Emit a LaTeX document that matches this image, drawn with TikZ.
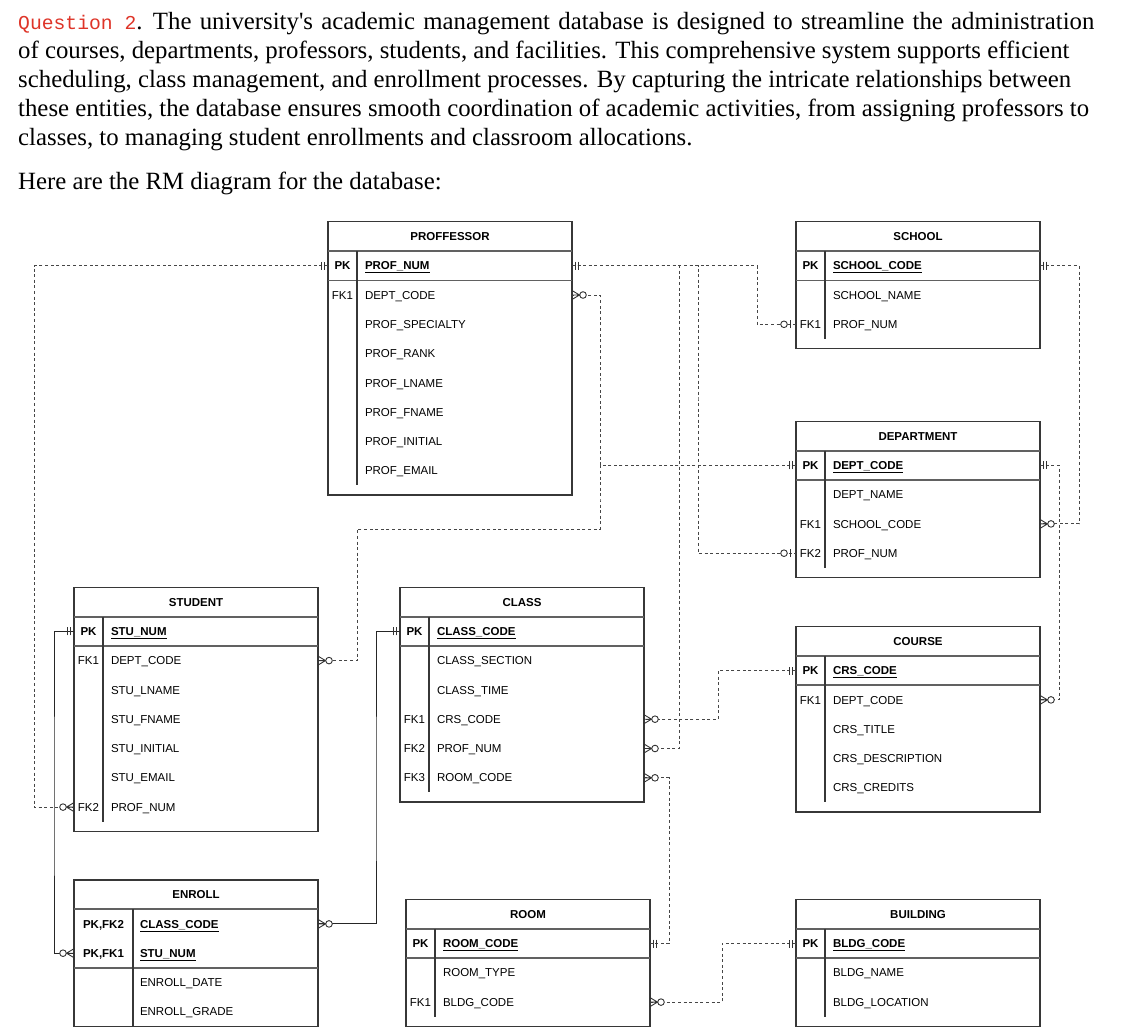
\documentclass[tikz,border=0pt]{standalone}
\usepackage{fontspec}
\setmainfont{Liberation Serif}
\newfontfamily\erfont{Liberation Sans}
\newfontfamily\codefont{Liberation Mono}
\usepackage{xcolor}
\usetikzlibrary{positioning}

\definecolor{qred}{RGB}{222,52,40}
\definecolor{edge}{RGB}{55,55,55}
\definecolor{link}{RGB}{70,70,70}

\begin{document}
\begin{tikzpicture}[
    x=1pt,y=-1pt,
    node distance=0pt,
    txt/.style={anchor=base west,inner sep=0,font=\fontsize{24.8}{29}\selectfont},
    ttl/.style={minimum width=244,minimum height=29.3,inner sep=0,outer sep=0,text height=8.2,text depth=0,font=\erfont\fontsize{11.5}{13}\selectfont\bfseries},
    row/.style={minimum width=244,minimum height=29.3,inner xsep=37,inner ysep=0,outer sep=0,text width=170,align=left,text height=8.2,text depth=0,font=\erfont\fontsize{11.5}{13}\selectfont},
    pkrow/.style={row,font=\erfont\fontsize{11.5}{13}\selectfont\bfseries},
    erow/.style={row,execute at begin node={\hspace*{29pt}}},
    epkrow/.style={pkrow,execute at begin node={\hspace*{29pt}}},
    key/.style={inner sep=0,text height=8.2,text depth=0,font=\erfont\fontsize{11.5}{13}\selectfont},
    pkey/.style={key,font=\erfont\fontsize{11.5}{13}\selectfont\bfseries},
    box/.style={draw=edge,line width=1.3},
    hline/.style={draw=black!62,line width=1.7},
    vline/.style={draw=edge,line width=1.2},
    rel/.style={draw=link,line width=0.9,dash pattern=on 3pt off 2.6pt},
    idrel/.style={draw=black!85,line width=0.9},
    mk/.style={draw=black!80,line width=0.9},
    pics/one/.style={code={\draw[mk] (3.5,-4) -- (3.5,4) (6.5,-4) -- (6.5,4);}},
    pics/zone/.style={code={\draw[mk] (6,-4) -- (6,4); \draw[mk,fill=white] (12,0) circle[radius=3.3];}},
    pics/zmany/.style={code={\draw[mk] (0,-4.5) -- (7.5,0) -- (0,4.5) (0,0) -- (7.5,0); \draw[mk,fill=white] (11,0) circle[radius=3.3];}}
]
\useasboundingbox (0,0) rectangle (1128,1036);

% question text
\node[txt] (q1) at (18,29) {{\codefont\fontsize{19.7}{20}\selectfont\color{qred}Question 2}.\spaceskip=8.3pt\relax{} The university\textquotesingle s academic management database is designed to streamline the administration};
\node[txt] (q2) at (18,58.2) {of courses, departments, professors, students, and facilities. This comprehensive system supports efficient};
\node[txt] (q3) at (18,87.4) {scheduling, class management, and enrollment processes. By capturing the intricate relationships between};
\node[txt] (q4) at (18,116.6) {these entities, the database ensures smooth coordination of academic activities, from assigning professors to};
\node[txt] (q5) at (18,145.8) {classes, to managing student enrollments and classroom allocations.};
\node[txt] (intro) at (18,189) {Here are the RM diagram for the database:};

% PROFESSOR
\node[ttl] (prof-t) at (450,236.4) {PROFFESSOR};
\node[pkrow,below=of prof-t] (prof-num) {\underline{PROF\_NUM}};
\node[row,below=of prof-num] (prof-dept) {DEPT\_CODE};
\node[row,below=of prof-dept] (prof-spec) {PROF\_SPECIALTY};
\node[row,below=of prof-spec] (prof-rank) {PROF\_RANK};
\node[row,below=of prof-rank] (prof-lname) {PROF\_LNAME};
\node[row,below=of prof-lname] (prof-fname) {PROF\_FNAME};
\node[row,below=of prof-fname] (prof-init) {PROF\_INITIAL};
\node[row,below=of prof-init] (prof-email) {PROF\_EMAIL};
\node[pkey] at ([xshift=14.5]prof-num.west) {PK};
\node[key] at ([xshift=14.5]prof-dept.west) {FK1};
\draw[box] (prof-t.north west) rectangle ([yshift=-9.5]prof-email.south east);
\draw[hline] (prof-t.south west) -- (prof-t.south east);
\draw[hline] (prof-num.south west) -- (prof-num.south east);
\draw[vline] ([xshift=29]prof-t.south west) -- ([xshift=29]prof-email.south west);

% SCHOOL
\node[ttl] (sch-t) at (918,236.4) {SCHOOL};
\node[pkrow,below=of sch-t] (sch-code) {\underline{SCHOOL\_CODE}};
\node[row,below=of sch-code] (sch-name) {SCHOOL\_NAME};
\node[row,below=of sch-name] (sch-prof) {PROF\_NUM};
\node[pkey] at ([xshift=14.5]sch-code.west) {PK};
\node[key] at ([xshift=14.5]sch-prof.west) {FK1};
\draw[box] (sch-t.north west) rectangle ([yshift=-9.5]sch-prof.south east);
\draw[hline] (sch-t.south west) -- (sch-t.south east);
\draw[hline] (sch-code.south west) -- (sch-code.south east);
\draw[vline] ([xshift=29]sch-t.south west) -- ([xshift=29]sch-prof.south west);

% DEPARTMENT
\node[ttl] (dep-t) at (918,436) {DEPARTMENT};
\node[pkrow,below=of dep-t] (dep-code) {\underline{DEPT\_CODE}};
\node[row,below=of dep-code] (dep-name) {DEPT\_NAME};
\node[row,below=of dep-name] (dep-sch) {SCHOOL\_CODE};
\node[row,below=of dep-sch] (dep-prof) {PROF\_NUM};
\node[pkey] at ([xshift=14.5]dep-code.west) {PK};
\node[key] at ([xshift=14.5]dep-sch.west) {FK1};
\node[key] at ([xshift=14.5]dep-prof.west) {FK2};
\draw[box] (dep-t.north west) rectangle ([yshift=-9.5]dep-prof.south east);
\draw[hline] (dep-t.south west) -- (dep-t.south east);
\draw[hline] (dep-code.south west) -- (dep-code.south east);
\draw[vline] ([xshift=29]dep-t.south west) -- ([xshift=29]dep-prof.south west);

% STUDENT
\node[ttl] (stu-t) at (196,602) {STUDENT};
\node[pkrow,below=of stu-t] (stu-num) {\underline{STU\_NUM}};
\node[row,below=of stu-num] (stu-dept) {DEPT\_CODE};
\node[row,below=of stu-dept] (stu-lname) {STU\_LNAME};
\node[row,below=of stu-lname] (stu-fname) {STU\_FNAME};
\node[row,below=of stu-fname] (stu-init) {STU\_INITIAL};
\node[row,below=of stu-init] (stu-email) {STU\_EMAIL};
\node[row,below=of stu-email] (stu-prof) {PROF\_NUM};
\node[pkey] at ([xshift=14.5]stu-num.west) {PK};
\node[key] at ([xshift=14.5]stu-dept.west) {FK1};
\node[key] at ([xshift=14.5]stu-prof.west) {FK2};
\draw[box] (stu-t.north west) rectangle ([yshift=-9.5]stu-prof.south east);
\draw[hline] (stu-t.south west) -- (stu-t.south east);
\draw[hline] (stu-num.south west) -- (stu-num.south east);
\draw[vline] ([xshift=29]stu-t.south west) -- ([xshift=29]stu-prof.south west);

% CLASS
\node[ttl] (cls-t) at (522,602) {CLASS};
\node[pkrow,below=of cls-t] (cls-code) {\underline{CLASS\_CODE}};
\node[row,below=of cls-code] (cls-sec) {CLASS\_SECTION};
\node[row,below=of cls-sec] (cls-time) {CLASS\_TIME};
\node[row,below=of cls-time] (cls-crs) {CRS\_CODE};
\node[row,below=of cls-crs] (cls-prof) {PROF\_NUM};
\node[row,below=of cls-prof] (cls-room) {ROOM\_CODE};
\node[pkey] at ([xshift=14.5]cls-code.west) {PK};
\node[key] at ([xshift=14.5]cls-crs.west) {FK1};
\node[key] at ([xshift=14.5]cls-prof.west) {FK2};
\node[key] at ([xshift=14.5]cls-room.west) {FK3};
\draw[box] (cls-t.north west) rectangle ([yshift=-9.5]cls-room.south east);
\draw[hline] (cls-t.south west) -- (cls-t.south east);
\draw[hline] (cls-code.south west) -- (cls-code.south east);
\draw[vline] ([xshift=29]cls-t.south west) -- ([xshift=29]cls-room.south west);

% COURSE
\node[ttl] (crs-t) at (918,641.3) {COURSE};
\node[pkrow,below=of crs-t] (crs-code) {\underline{CRS\_CODE}};
\node[row,below=of crs-code] (crs-dept) {DEPT\_CODE};
\node[row,below=of crs-dept] (crs-title) {CRS\_TITLE};
\node[row,below=of crs-title] (crs-desc) {CRS\_DESCRIPTION};
\node[row,below=of crs-desc] (crs-cred) {CRS\_CREDITS};
\node[pkey] at ([xshift=14.5]crs-code.west) {PK};
\node[key] at ([xshift=14.5]crs-dept.west) {FK1};
\draw[box] (crs-t.north west) rectangle ([yshift=-9.5]crs-cred.south east);
\draw[hline] (crs-t.south west) -- (crs-t.south east);
\draw[hline] (crs-code.south west) -- (crs-code.south east);
\draw[vline] ([xshift=29]crs-t.south west) -- ([xshift=29]crs-cred.south west);

% ENROLL
\node[ttl] (enr-t) at (196,894.6) {ENROLL};
\node[epkrow,below=of enr-t] (enr-cls) {\underline{CLASS\_CODE}};
\node[epkrow,below=of enr-cls] (enr-stu) {\underline{STU\_NUM}};
\node[erow,below=of enr-stu] (enr-date) {ENROLL\_DATE};
\node[erow,below=of enr-date] (enr-grade) {ENROLL\_GRADE};
\node[pkey] at ([xshift=29.5]enr-cls.west) {PK,FK2};
\node[pkey] at ([xshift=29.5]enr-stu.west) {PK,FK1};
\draw[box] (enr-t.north west) rectangle (enr-grade.south east);
\draw[hline] (enr-t.south west) -- (enr-t.south east);
\draw[hline] (enr-stu.south west) -- (enr-stu.south east);
\draw[vline] ([xshift=59]enr-t.south west) -- ([xshift=59]enr-grade.south west);

% ROOM
\node[ttl] (room-t) at (528,914.2) {ROOM};
\node[pkrow,below=of room-t] (room-code) {\underline{ROOM\_CODE}};
\node[row,below=of room-code] (room-type) {ROOM\_TYPE};
\node[row,below=of room-type] (room-bldg) {BLDG\_CODE};
\node[pkey] at ([xshift=14.5]room-code.west) {PK};
\node[key] at ([xshift=14.5]room-bldg.west) {FK1};
\draw[box] (room-t.north west) rectangle ([yshift=-9.5]room-bldg.south east);
\draw[hline] (room-t.south west) -- (room-t.south east);
\draw[hline] (room-code.south west) -- (room-code.south east);
\draw[vline] ([xshift=29]room-t.south west) -- ([xshift=29]room-bldg.south west);

% BUILDING
\node[ttl] (bldg-t) at (918,914.2) {BUILDING};
\node[pkrow,below=of bldg-t] (bldg-code) {\underline{BLDG\_CODE}};
\node[row,below=of bldg-code] (bldg-name) {BLDG\_NAME};
\node[row,below=of bldg-name] (bldg-loc) {BLDG\_LOCATION};
\node[pkey] at ([xshift=14.5]bldg-code.west) {PK};
\draw[box] (bldg-t.north west) rectangle ([yshift=-9.5]bldg-loc.south east);
\draw[hline] (bldg-t.south west) -- (bldg-t.south east);
\draw[hline] (bldg-code.south west) -- (bldg-code.south east);
\draw[vline] ([xshift=29]bldg-t.south west) -- ([xshift=29]bldg-loc.south west);

% relationships
\draw[rel] (prof-num.west) -| (34,500) |- (stu-prof.west);
\draw[rel] (prof-num.east) -| (757,300) |- (sch-prof.west);
\draw[rel] (prof-num.east) -| (698,400) |- (dep-prof.west);
\draw[rel] (prof-num.east) -| (679,500) |- (cls-prof.east);
\draw[rel] (dep-code.west) -| (600,380) |- (prof-dept.east);
\draw[rel] (dep-code.west) -| (600,500) |- (357,529) |- (stu-dept.east);
\draw[rel] (sch-code.east) -| (1079,400) |- (dep-sch.east);
\draw[rel] (dep-code.east) -| (1059,600) |- (crs-dept.east);
\draw[rel] (crs-code.west) -| (718,700) |- (cls-crs.east);
\draw[rel] (cls-room.east) -| (669,850) |- (room-code.east);
\draw[rel] (room-bldg.east) -| (722,970) |- (bldg-code.west);
\draw[idrel] (stu-num.west) -| (54,800) |- (enr-stu.west);
\draw[idrel] (cls-code.west) -| (376,800) |- (enr-cls.east);

% cardinality marks
\pic[rotate=180] at (prof-num.west) {one};
\pic at (prof-num.east) {one};
\pic at (sch-code.east) {one};
\pic[rotate=180] at (dep-code.west) {one};
\pic at (dep-code.east) {one};
\pic[rotate=180] at (crs-code.west) {one};
\pic at (room-code.east) {one};
\pic[rotate=180] at (bldg-code.west) {one};
\pic[rotate=180] at (stu-num.west) {one};
\pic[rotate=180] at (cls-code.west) {one};
\pic[rotate=180] at (sch-prof.west) {zone};
\pic[rotate=180] at (dep-prof.west) {zone};
\pic[rotate=180] at (stu-prof.west) {zmany};
\pic at (prof-dept.east) {zmany};
\pic at (stu-dept.east) {zmany};
\pic at (dep-sch.east) {zmany};
\pic at (crs-dept.east) {zmany};
\pic at (cls-crs.east) {zmany};
\pic at (cls-prof.east) {zmany};
\pic at (cls-room.east) {zmany};
\pic at (room-bldg.east) {zmany};
\pic[rotate=180] at (enr-stu.west) {zmany};
\pic at (enr-cls.east) {zmany};
\end{tikzpicture}
\end{document}
